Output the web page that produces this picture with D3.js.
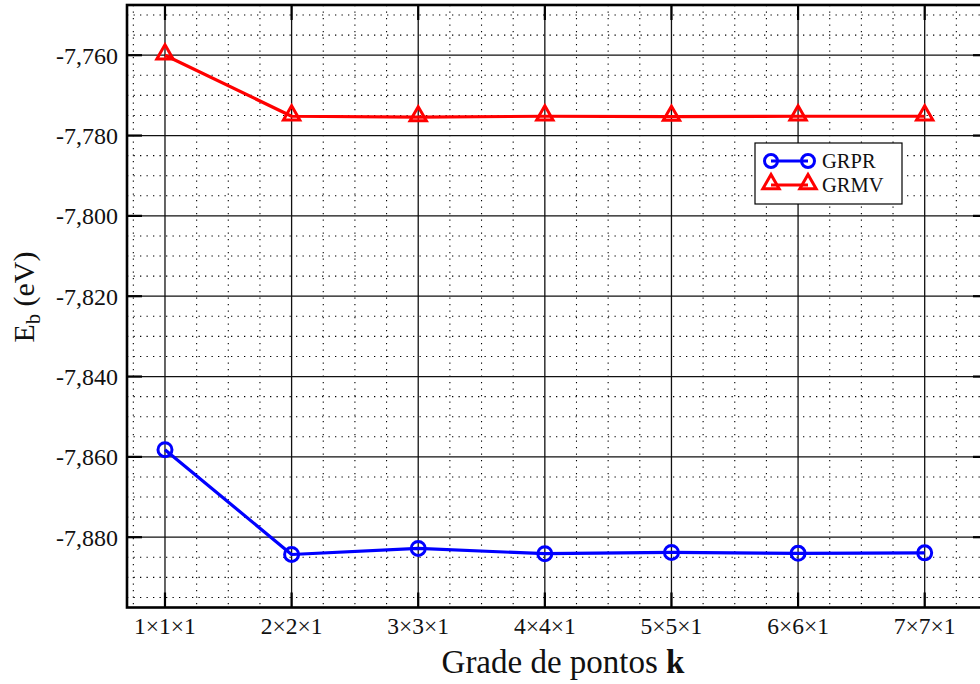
<!DOCTYPE html>
<html>
<head>
<meta charset="utf-8">
<script src="https://cdn.jsdelivr.net/npm/d3@7"></script>
<style>
  html, body { margin: 0; padding: 0; background: #fff; }
  svg { display: block; font-family: "Liberation Serif", "Times New Roman", serif; }
</style>
</head>
<body>
<svg id="chart" width="980" height="684"></svg>
<script>
// k-point grids along the x axis
const categories = ["1×1×1", "2×2×1", "3×3×1", "4×4×1", "5×5×1", "6×6×1", "7×7×1"];
// binding energy (eV) for each grid
const grpr = [-7858.2, -7884.3, -7882.8, -7884.1, -7883.8, -7884.0, -7883.9];
const grmv = [-7760.0, -7775.2, -7775.4, -7775.2, -7775.3, -7775.2, -7775.2];
// y axis tick values and their labels
const yTicks = [-7760, -7780, -7800, -7820, -7840, -7860, -7880];
const yTickLabels = ["-7,760", "-7,780", "-7,800", "-7,820", "-7,840", "-7,860", "-7,880"];
const seriesNames = ["GRPR", "GRMV"];

const svg = d3.select("#chart");
const L = 127, R = 988, T = 5, B = 607.5;

const x = d3.scaleLinear().domain([0.7, 7.5]).range([L, R]);
const y = d3.scaleLinear().domain([-7897.5, -7747.5]).range([B, T]);

const xMajor = d3.range(1, categories.length + 1);
const xMinor = d3.range(0.75, 7.5, 0.25).filter(v => Math.abs(v - Math.round(v)) > 1e-6);
const yMinor = d3.range(-7895, -7747, 5).filter(v => v % 20 !== 0);

const grid = svg.append("g");
// dotted minor grid
grid.selectAll(".mx").data(xMinor).join("line")
  .attr("x1", d => x(d)).attr("x2", d => x(d)).attr("y1", T).attr("y2", B)
  .attr("stroke", "#000").attr("stroke-width", 1.1).attr("stroke-dasharray", "1.3,5.2");
grid.selectAll(".my").data(yMinor).join("line")
  .attr("x1", L).attr("x2", R).attr("y1", d => y(d)).attr("y2", d => y(d))
  .attr("stroke", "#000").attr("stroke-width", 1.1).attr("stroke-dasharray", "1.3,5.2");
// solid major grid
grid.selectAll(".Mx").data(xMajor).join("line")
  .attr("x1", d => x(d)).attr("x2", d => x(d)).attr("y1", T).attr("y2", B)
  .attr("stroke", "#111").attr("stroke-width", 1.3);
grid.selectAll(".My").data(yTicks).join("line")
  .attr("x1", L).attr("x2", R).attr("y1", d => y(d)).attr("y2", d => y(d))
  .attr("stroke", "#111").attr("stroke-width", 1.3);

// inward tick marks
const tickLen = 15;
grid.selectAll(".ty").data(yTicks).join("g").each(function(d) {
  const g = d3.select(this);
  g.append("line").attr("x1", L).attr("x2", L + tickLen).attr("y1", y(d)).attr("y2", y(d))
    .attr("stroke", "#000").attr("stroke-width", 2.2);
  g.append("line").attr("x1", R).attr("x2", R - tickLen).attr("y1", y(d)).attr("y2", y(d))
    .attr("stroke", "#000").attr("stroke-width", 2.2);
});
grid.selectAll(".tx").data(xMajor).join("g").each(function(d) {
  const g = d3.select(this);
  g.append("line").attr("x1", x(d)).attr("x2", x(d)).attr("y1", B).attr("y2", B - tickLen)
    .attr("stroke", "#000").attr("stroke-width", 2.2);
  g.append("line").attr("x1", x(d)).attr("x2", x(d)).attr("y1", T).attr("y2", T + tickLen)
    .attr("stroke", "#000").attr("stroke-width", 2.2);
});

// frame
svg.append("rect").attr("x", L).attr("y", T).attr("width", R - L).attr("height", B - T)
  .attr("fill", "none").attr("stroke", "#000").attr("stroke-width", 2.6);

// tick labels
svg.append("g").selectAll("text").data(yTicks).join("text")
  .attr("x", L - 9).attr("y", d => y(d)).attr("dy", "0.35em")
  .attr("text-anchor", "end").attr("font-size", 24).attr("fill", "#111")
  .text((d, i) => yTickLabels[i]);
svg.append("g").selectAll("text").data(categories).join("text")
  .attr("x", (d, i) => x(i + 1)).attr("y", 634)
  .attr("text-anchor", "middle").attr("font-size", 23.5).attr("fill", "#111")
  .text(d => d);

// axis titles
const xt = svg.append("text").attr("x", 563).attr("y", 673).attr("text-anchor", "middle")
  .attr("font-size", 33).attr("fill", "#111");
xt.append("tspan").text("Grade de pontos ");
xt.append("tspan").attr("font-weight", "bold").text("k");

const yt = svg.append("text").attr("transform", "translate(34,297) rotate(-90)")
  .attr("text-anchor", "middle").attr("font-size", 30).attr("fill", "#111");
yt.append("tspan").text("E");
yt.append("tspan").attr("font-size", 20).attr("dy", 6).text("b");
yt.append("tspan").attr("dy", -6).text(" (eV)");

// series
const line = d3.line().x((d, i) => x(i + 1)).y(d => y(d));
const tri = d3.symbol().type(d3.symbolTriangle).size(115);

function drawSeries(vals, color, marker) {
  const g = svg.append("g");
  g.append("path").datum(vals).attr("d", line)
    .attr("fill", "none").attr("stroke", color).attr("stroke-width", 3.2).attr("stroke-linejoin", "round");
  if (marker === "circle") {
    g.selectAll("circle").data(vals).join("circle")
      .attr("cx", (d, i) => x(i + 1)).attr("cy", d => y(d)).attr("r", 7)
      .attr("fill", "none").attr("stroke", color).attr("stroke-width", 3);
  } else {
    g.selectAll("path.m").data(vals).join("path").attr("class", "m")
      .attr("transform", (d, i) => `translate(${x(i + 1)},${y(d) - 1})`)
      .attr("d", tri).attr("fill", "none").attr("stroke", color).attr("stroke-width", 3);
  }
}
drawSeries(grpr, "#0000ff", "circle");
drawSeries(grmv, "#ff0000", "triangle");

// legend
const lg = svg.append("g");
lg.append("rect").attr("x", 755).attr("y", 143).attr("width", 147).attr("height", 61)
  .attr("fill", "#fff").attr("stroke", "#000").attr("stroke-width", 1.2);
const rows = [{ name: seriesNames[0], color: "#0000ff", m: "circle", cy: 161 },
              { name: seriesNames[1], color: "#ff0000", m: "triangle", cy: 185 }];
rows.forEach(r => {
  lg.append("line").attr("x1", 771).attr("x2", 808).attr("y1", r.cy).attr("y2", r.cy)
    .attr("stroke", r.color).attr("stroke-width", 3);
  [771, 808].forEach(mx => {
    if (r.m === "circle") {
      lg.append("circle").attr("cx", mx).attr("cy", r.cy).attr("r", 6.5)
        .attr("fill", "none").attr("stroke", r.color).attr("stroke-width", 3);
    } else {
      lg.append("path").attr("transform", `translate(${mx},${r.cy - 1})`).attr("d", tri)
        .attr("fill", "none").attr("stroke", r.color).attr("stroke-width", 3);
    }
  });
  lg.append("text").attr("x", 822).attr("y", r.cy).attr("dy", "0.34em")
    .attr("font-size", 20.5).attr("fill", "#111").text(r.name);
});
</script>
</body>
</html>
